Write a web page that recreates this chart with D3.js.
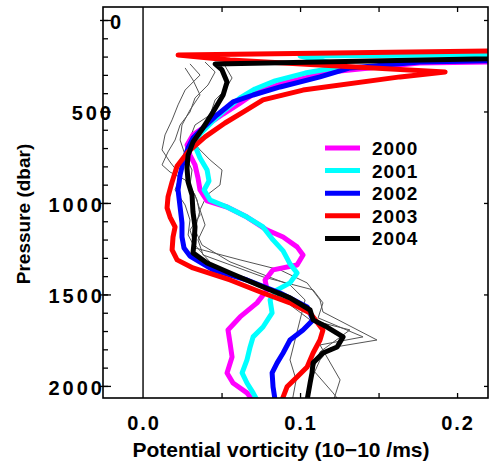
<!DOCTYPE html>
<html>
<head>
<meta charset="utf-8">
<script src="https://cdn.jsdelivr.net/npm/d3@7"></script>
<style>
  html, body { margin: 0; padding: 0; background: #fff; }
  svg { display: block; }
  text { font-family: "Liberation Sans", Arial, sans-serif; font-weight: bold; fill: #000; }
</style>
</head>
<body>
<svg id="chart" width="489" height="466"></svg>
<script>
// Potential vorticity profiles, yearly means and individual casts.
// Each profile is a list of [pressure (dbar), PV (1e-10 /ms)] pairs.

const years = ["2000", "2001", "2002", "2003", "2004"];
const yearColors = ["#ff00ff", "#00ffff", "#0000ff", "#ff0000", "#000000"];

const pv2000 = [
  [197, 0.482], [235, 0.176], [284, 0.119], [350, 0.0873], [399, 0.0713], [454, 0.0618],
  [514, 0.0510], [574, 0.0408], [628, 0.0318], [683, 0.0280], [738, 0.0299], [792, 0.0331],
  [863, 0.0350], [929, 0.0363], [989, 0.0408], [1022, 0.0535], [1077, 0.0662], [1148, 0.0790],
  [1186, 0.0892], [1240, 0.0981], [1284, 0.1019], [1339, 0.0981], [1366, 0.0828], [1421, 0.0777],
  [1475, 0.0790], [1546, 0.0726], [1623, 0.0618], [1694, 0.0541], [1765, 0.0554], [1842, 0.0567],
  [1929, 0.0535], [1984, 0.0573], [2038, 0.0662], [2087, 0.0707]
];

const pv2001 = [
  [175, 0.482], [197, 0.1000], [251, 0.1287], [290, 0.1032], [333, 0.0841], [377, 0.0713],
  [426, 0.0618], [492, 0.0522], [557, 0.0439], [623, 0.0363], [689, 0.0331], [754, 0.0363],
  [820, 0.0408], [880, 0.0420], [929, 0.0389], [984, 0.0427], [1022, 0.0535], [1077, 0.0662],
  [1131, 0.0764], [1202, 0.0828], [1262, 0.0892], [1333, 0.0936], [1383, 0.0981], [1437, 0.0936],
  [1475, 0.0854], [1530, 0.0809], [1601, 0.0822], [1678, 0.0764], [1732, 0.0701], [1787, 0.0682],
  [1858, 0.0662], [1929, 0.0631], [1984, 0.0662], [2038, 0.0701], [2087, 0.0732]
];

const pv2002 = [
  [186, 0.482], [229, 0.1764], [262, 0.1318], [311, 0.1127], [366, 0.0873], [410, 0.0701],
  [448, 0.0573], [519, 0.0471], [590, 0.0382], [645, 0.0318], [699, 0.0287], [776, 0.0255],
  [847, 0.0236], [929, 0.0223], [1022, 0.0236], [1109, 0.0248], [1186, 0.0248], [1246, 0.0261],
  [1290, 0.0299], [1366, 0.0446], [1421, 0.0662], [1492, 0.0873], [1568, 0.1045], [1639, 0.1083],
  [1694, 0.1019], [1749, 0.0936], [1820, 0.0892], [1874, 0.0854], [1929, 0.0822], [2005, 0.0828],
  [2077, 0.0841]
];

const pv2003 = [
  [142, 0.482], [191, 0.0223], [219, 0.0554], [284, 0.1924], [311, 0.1637], [383, 0.1019],
  [437, 0.0764], [503, 0.0637], [563, 0.0522], [639, 0.0395], [721, 0.0287], [798, 0.0217],
  [885, 0.0185], [967, 0.0159], [1027, 0.0153], [1077, 0.0172], [1131, 0.0204], [1186, 0.0191],
  [1257, 0.0185], [1311, 0.0217], [1355, 0.0318], [1421, 0.0554], [1492, 0.0764], [1546, 0.0936],
  [1601, 0.1064], [1694, 0.1146], [1749, 0.1127], [1820, 0.1083], [1896, 0.1045], [1951, 0.0981],
  [2005, 0.0917], [2077, 0.0885]
];

const pv2004 = [
  [180, 0.418], [240, 0.0459], [273, 0.0503], [339, 0.0535], [410, 0.0510], [503, 0.0446],
  [590, 0.0382], [667, 0.0318], [738, 0.0287], [809, 0.0280], [885, 0.0287], [956, 0.0312],
  [1049, 0.0318], [1131, 0.0331], [1219, 0.0325], [1273, 0.0318], [1328, 0.0408], [1383, 0.0554],
  [1459, 0.0764], [1519, 0.0936], [1585, 0.1064], [1639, 0.1083], [1678, 0.1172], [1732, 0.1274],
  [1787, 0.1236], [1820, 0.1146], [1874, 0.1083], [1929, 0.1076], [1984, 0.1064], [2077, 0.1045]
];

// Individual 2004 casts (thin grey)
const cast1 = [
  [240, 0.0299], [301, 0.0363], [383, 0.0268], [464, 0.0223], [546, 0.0185], [628, 0.0140],
  [710, 0.0121], [776, 0.0172], [847, 0.0236], [929, 0.0204], [1011, 0.0268], [1093, 0.0299],
  [1175, 0.0287], [1246, 0.0331], [1311, 0.0618], [1366, 0.0873], [1437, 0.1045], [1530, 0.1127],
  [1596, 0.1146], [1749, 0.1490], [1792, 0.1191], [1858, 0.1127], [1956, 0.1076], [2087, 0.1032]
];
const cast2 = [
  [230, 0.0395], [284, 0.0459], [355, 0.0414], [426, 0.0331], [503, 0.0299], [574, 0.0236],
  [656, 0.0204], [721, 0.0159], [792, 0.0121], [831, 0.0172], [874, 0.0268], [956, 0.0331],
  [1038, 0.0363], [1120, 0.0395], [1202, 0.0350], [1284, 0.0382], [1404, 0.0764], [1475, 0.1083],
  [1546, 0.1146], [1628, 0.1115], [1732, 0.1401], [1776, 0.1127], [1967, 0.1255], [2087, 0.1210]
];
const cast3 = [
  [251, 0.0522], [317, 0.0567], [383, 0.0522], [437, 0.0459], [519, 0.0427], [574, 0.0331],
  [645, 0.0299], [710, 0.0363], [765, 0.0427], [820, 0.0503], [902, 0.0490], [956, 0.0408],
  [1038, 0.0363], [1148, 0.0331], [1230, 0.0376], [1322, 0.0554], [1448, 0.0936], [1530, 0.1032],
  [1639, 0.1000], [1749, 0.0968], [1858, 0.0936], [1967, 0.0975], [2087, 0.0949]
];
const cast4 = [
  [262, 0.0268], [328, 0.0318], [410, 0.0363], [492, 0.0299], [574, 0.0248], [656, 0.0236],
  [738, 0.0268], [820, 0.0312], [902, 0.0299], [984, 0.0344], [1066, 0.0363], [1148, 0.0299],
  [1230, 0.0331], [1355, 0.0459], [1475, 0.0809], [1639, 0.1064], [1694, 0.1318], [1814, 0.1127],
  [1913, 0.1083], [2038, 0.1210], [2087, 0.1255]
];

const yearProfiles = [pv2000, pv2001, pv2002, pv2003, pv2004];
const casts = [cast1, cast2, cast3, cast4];

const pressureMajor = [0, 500, 1000, 1500, 2000];
const pressureMinor = d3.range(0, 2001, 100);
const pvMajor = [0, 0.1, 0.2];
const pvLabels = ["0.0", "0.1", "0.2"];
const pvFrameTicks = [0.05, 0.1, 0.15, 0.2];

const svg = d3.select("#chart");
const frame = { left: 103, top: 7, right: 488, bottom: 398 };

const x = d3.scaleLinear().domain([-0.0255, 0.2197]).range([frame.left, frame.right]);
const y = d3.scaleLinear().domain([-71, 2066]).range([frame.top, frame.bottom]);

svg.append("defs").append("clipPath").attr("id", "plot-clip")
  .append("rect")
  .attr("x", frame.left).attr("y", frame.top)
  .attr("width", frame.right - frame.left).attr("height", frame.bottom - frame.top);

// zero-PV reference line
svg.append("line")
  .attr("x1", x(0)).attr("x2", x(0))
  .attr("y1", frame.top).attr("y2", frame.bottom)
  .attr("stroke", "#000").attr("stroke-width", 1.4);

const line = d3.line().x(d => x(d[1])).y(d => y(d[0]));
const plot = svg.append("g").attr("clip-path", "url(#plot-clip)");

plot.selectAll("path.cast").data(casts).join("path")
  .attr("class", "cast")
  .attr("d", line)
  .attr("fill", "none").attr("stroke", "#555").attr("stroke-width", 1)
  .attr("stroke-linejoin", "round");

plot.selectAll("path.year").data(yearProfiles).join("path")
  .attr("class", "year")
  .attr("d", line)
  .attr("fill", "none")
  .attr("stroke", (d, i) => yearColors[i])
  .attr("stroke-width", 5)
  .attr("stroke-linejoin", "round");

// Frame
svg.append("rect")
  .attr("x", frame.left).attr("y", frame.top)
  .attr("width", frame.right - frame.left).attr("height", frame.bottom - frame.top)
  .attr("fill", "none").attr("stroke", "#000").attr("stroke-width", 1.6);

// Left axis: minor ticks inward, major ticks crossing the frame
svg.append("g").attr("transform", `translate(${frame.left},0)`)
  .call(d3.axisLeft(y).tickValues(pressureMinor).tickSize(-5).tickFormat(""))
  .call(g => g.select(".domain").remove())
  .call(g => g.selectAll("line").attr("stroke-width", 1.3));
svg.append("g").attr("transform", `translate(${frame.left + 8},0)`)
  .call(d3.axisLeft(y).tickValues(pressureMajor).tickSize(11).tickFormat(""))
  .call(g => g.select(".domain").remove())
  .call(g => g.selectAll("line").attr("stroke-width", 1.3));

// Right axis major ticks (inward)
svg.append("g").attr("transform", `translate(${frame.right},0)`)
  .call(d3.axisRight(y).tickValues(pressureMajor).tickSize(-4).tickFormat(""))
  .call(g => g.select(".domain").remove())
  .call(g => g.selectAll("line").attr("stroke-width", 1.3));

// Top and bottom ticks (inward)
svg.append("g").attr("transform", `translate(0,${frame.top})`)
  .call(d3.axisTop(x).tickValues(pvFrameTicks).tickSize(-5).tickFormat(""))
  .call(g => g.select(".domain").remove())
  .call(g => g.selectAll("line").attr("stroke-width", 1.3));
svg.append("g").attr("transform", `translate(0,${frame.bottom})`)
  .call(d3.axisBottom(x).tickValues(pvFrameTicks).tickSize(-5).tickFormat(""))
  .call(g => g.select(".domain").remove())
  .call(g => g.selectAll("line").attr("stroke-width", 1.3));

// Pressure tick labels
svg.append("g").selectAll("text").data(pressureMajor).join("text")
  .attr("x", d => d === 0 ? frame.left + 7 : (d === 500 ? frame.left + 8 : frame.left - 1))
  .attr("y", d => y(d) + 9)
  .attr("text-anchor", d => d === 0 ? "start" : "end")
  .attr("font-size", 20)
  .attr("letter-spacing", 3)
  .attr("dx", d => d === 0 ? 0 : 3)
  .text(d => d);

// PV tick labels
svg.append("g").selectAll("text").data(pvMajor).join("text")
  .attr("x", d => x(d) + 1)
  .attr("y", 430)
  .attr("text-anchor", "middle")
  .attr("font-size", 20)
  .attr("letter-spacing", 2)
  .text((d, i) => pvLabels[i]);

// Axis titles
svg.append("text")
  .attr("x", 281).attr("y", 457)
  .attr("text-anchor", "middle")
  .attr("font-size", 21)
  .text("Potential vorticity (10\u221210 /ms)");

svg.append("text")
  .attr("transform", "translate(30,214) rotate(-90)")
  .attr("text-anchor", "middle")
  .attr("font-size", 19)
  .text("Pressure (dbar)");

// Legend
const legend = svg.append("g");
const legendItems = legend.selectAll("g").data(years).join("g")
  .attr("transform", (d, i) => `translate(325,${148 + i * 22.6})`);
legendItems.append("line")
  .attr("x1", 0).attr("x2", 35).attr("y1", 0).attr("y2", 0)
  .attr("stroke", (d, i) => yearColors[i]).attr("stroke-width", 5);
legendItems.append("text")
  .attr("x", 47).attr("y", 7)
  .attr("font-size", 19)
  .attr("letter-spacing", 1)
  .text(d => d);
</script>
</body>
</html>
